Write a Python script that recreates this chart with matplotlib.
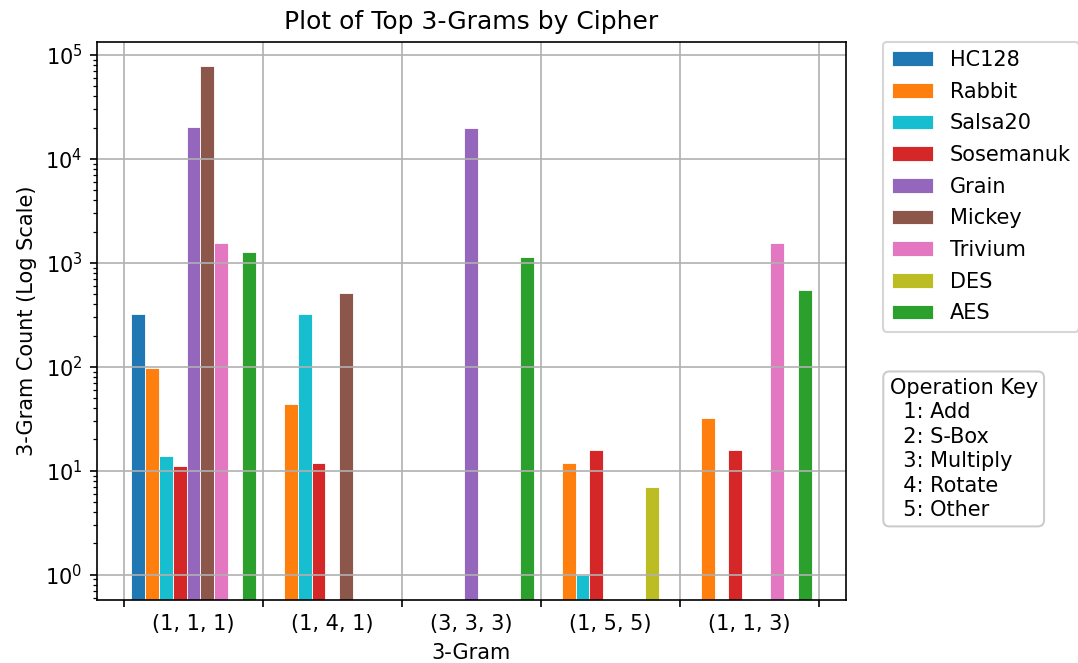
import numpy as np
import matplotlib
matplotlib.use('Agg')
import matplotlib.pyplot as plt

# 3-grams on the x axis
grams = ['(1, 1, 1)', '(1, 4, 1)', '(3, 3, 3)', '(1, 5, 5)', '(1, 1, 3)']

ciphers = ['HC128', 'Rabbit', 'Salsa20', 'Sosemanuk', 'Grain',
           'Mickey', 'Trivium', 'DES', 'AES']
colors = ['tab:blue', 'tab:orange', 'tab:cyan', 'tab:red', 'tab:purple',
          'tab:brown', 'tab:pink', 'tab:olive', 'tab:green']

# counts per cipher, one value per 3-gram (0 = not present)
hc128     = [320, 0, 0, 0, 0]
rabbit    = [98, 44, 0, 12, 32]
salsa20   = [14, 320, 0, 1, 0]
sosemanuk = [11, 12, 0, 16, 16]
grain     = [20500, 0, 20000, 0, 0]
mickey    = [78000, 515, 0, 0, 0]
trivium   = [1550, 0, 0, 0, 1550]
des       = [0, 0, 0, 7, 0]
aes       = [1270, 0, 1150, 0, 550]

counts = [hc128, rabbit, salsa20, sosemanuk, grain, mickey, trivium, des, aes]

fig = plt.figure(figsize=(1078/150, 663/150), dpi=150)
ax = fig.add_axes([0.0899, 0.095, 0.6947, 0.8424])

x = np.arange(len(grams))
width = 0.1
for i, (name, vals) in enumerate(zip(ciphers, counts)):
    ax.bar(x + (i - 4) * width, vals, width, label=name, color=colors[i],
           edgecolor='white', linewidth=0.4)

ax.set_yscale('log')
ax.set_ylim(0.571, 1.35e5)

# ticks on group boundaries, labels at centres
ax.set_xticks(np.arange(-0.5, len(grams), 1))
ax.set_xticklabels([])
ax.set_xticks(x, labels=grams, minor=True)
ax.tick_params(axis='x', which='minor', length=3.5, width=0)
ax.grid(True)

ax.set_title('Plot of Top 3-Grams by Cipher', fontsize=12)
ax.set_xlabel('3-Gram')
ax.set_ylabel('3-Gram Count (Log Scale)')

ax.legend(bbox_to_anchor=(1.05, 1), loc='upper left', borderaxespad=0,
          labelspacing=0.56)

key = 'Operation Key\n  1: Add\n  2: S-Box\n  3: Multiply\n  4: Rotate\n  5: Other'
ax.text(1.0584, 0.398, key, transform=ax.transAxes, va='top', ha='left',
        fontsize=10, linespacing=1.28,
        bbox=dict(boxstyle='round', facecolor='white', edgecolor='0.8'))

fig.savefig('out.png', dpi=150)
